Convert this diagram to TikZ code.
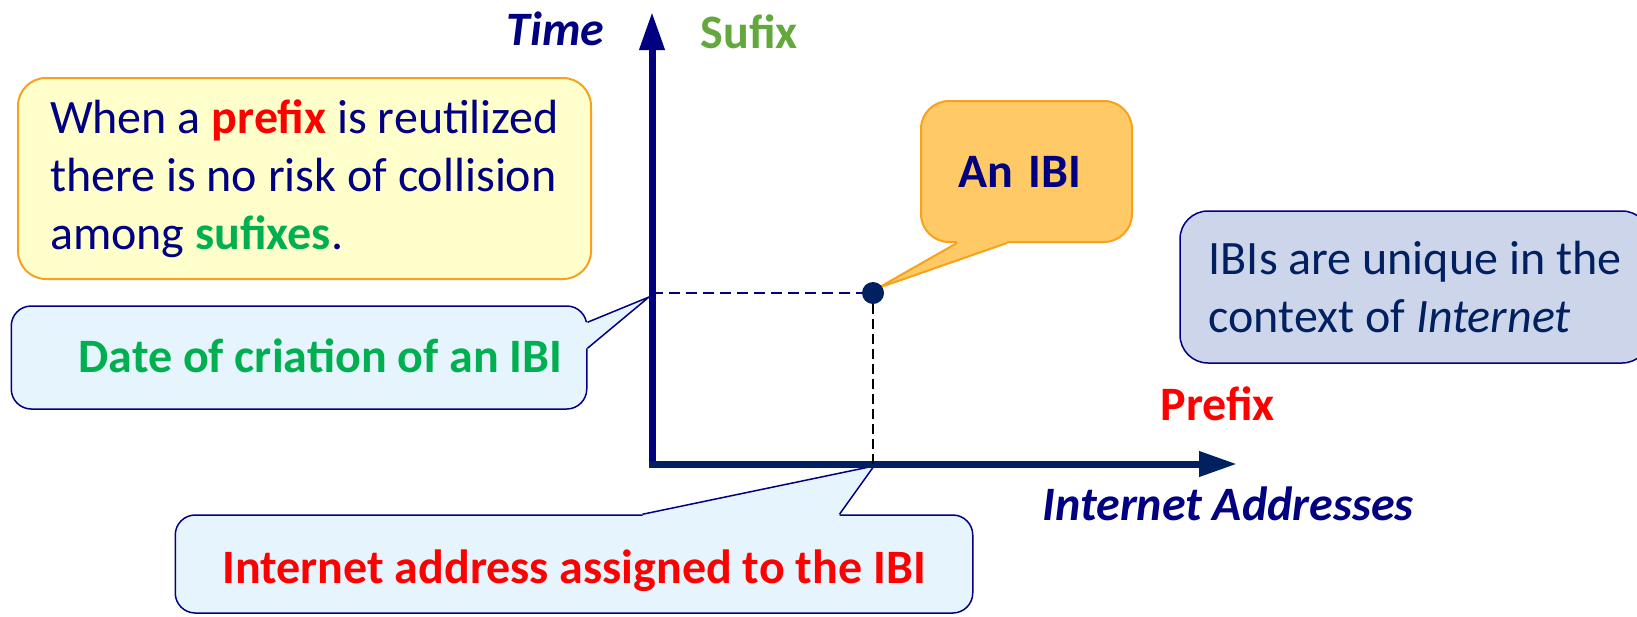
\documentclass[tikz,border=0pt]{standalone}
\usepackage{fontspec}
\setmainfont{Carlito}
\usetikzlibrary{arrows.meta,calc}

\definecolor{navy}{HTML}{000080}
\definecolor{darknavy}{HTML}{002060}
\definecolor{ibigreen}{HTML}{00B050}
\definecolor{sufgreen}{HTML}{62A83C}
\definecolor{notefill}{HTML}{FFFFCC}
\definecolor{orangeline}{HTML}{F9A11B}
\definecolor{tagfill}{HTML}{FFCA66}
\definecolor{callfill}{HTML}{E6F4FD}
\definecolor{uniqfill}{HTML}{CDD5EA}

\tikzset{
  plaintext/.style={font=\fontsize{48pt}{58pt}\selectfont},
  boldtext/.style={font=\fontsize{48pt}{58pt}\selectfont\bfseries},
  slanttext/.style={font=\fontsize{48pt}{58pt}\selectfont\bfseries\itshape},
  notebox/.style={draw=orangeline, fill=notefill, line width=2pt, rounded corners=28pt, plaintext},
  tagbox/.style={draw=orangeline, fill=tagfill, line width=2pt, rounded corners=28pt, boldtext},
  callbox/.style={draw=navy, fill=callfill, line width=1.5pt, rounded corners=20pt, boldtext},
  uniqbox/.style={draw=navy, fill=uniqfill, line width=1.5pt, rounded corners=28pt, plaintext},
  axis/.style={line width=7pt, -{Triangle[length=38pt,width=24pt]}},
}

\begin{document}
\begin{tikzpicture}[x=1pt, y=-1pt]
  \useasboundingbox (0,0) rectangle (1637,616);

  %% boxes
  \node[notebox, minimum width=573pt, minimum height=201pt, align=left, text=navy]
        (note) at (304.5,178.5)
        {When a \textcolor{red}{\textbf{prefix}} is reutilized\\
         there is no risk of collision\\
         among \textcolor{ibigreen}{\textbf{sufixes}}.};

  \node[callbox, minimum width=575.5pt, minimum height=103pt] (date) at (299,357.5) {};
  \node[boldtext, text=ibigreen, anchor=base east, inner sep=0pt] (datetext)
        at ($(date.north east)+(-25,67)$) {Date of criation of an IBI};

  \node[callbox, minimum width=797.5pt, minimum height=98pt, text=red,
        text height=38pt, text depth=0pt] (addr) at (574,564)
        {Internet address assigned to the IBI};

  \node[tagbox, minimum width=211pt, minimum height=141pt, inner xsep=37pt,
        text width=137pt, align=left, text=navy] (tag) at (1026.5,171.5) {An IBI};

  \node[uniqbox, minimum width=470pt, minimum height=152pt, align=left,
        text=darknavy] (uniq) at (1415,287)
        {IBIs are unique in the\\ context of \textit{Internet}};

  %% tails
  \coordinate (datetip) at (649,297);
  \coordinate (addrtip) at (874,466);
  \coordinate (tagtip)  at (878,288);

  \fill[callfill] ($(date.north east)+(-4,17)$) -- ($(date.north east)+(0,17)$) -- (datetip)
        -- ($(date.north east)+(0,43)$) -- ($(date.north east)+(-4,43)$) -- cycle;
  \draw[navy, line width=1.5pt] ($(date.north east)+(0,17)$) -- (datetip) -- ($(date.north east)+(0,43)$);

  \fill[callfill] ($(addr.north west)+(468,4)$) -- ($(addr.north west)+(468,0)$) -- (addrtip)
        -- ($(addr.north west)+(665,0)$) -- ($(addr.north west)+(665,4)$) -- cycle;
  \draw[navy, line width=1.5pt] ($(addr.north west)+(468,0)$) -- (addrtip) -- ($(addr.north west)+(665,0)$);

  \fill[tagfill] ($(tag.south west)+(37,-4)$) -- ($(tag.south west)+(37,0)$) -- (tagtip)
        -- ($(tag.south west)+(87,0)$) -- ($(tag.south west)+(87,-4)$) -- cycle;
  \draw[orangeline, line width=2pt] ($(tag.south west)+(37,0)$) -- (tagtip) -- ($(tag.south west)+(87,0)$);

  %% axes
  \coordinate (origin) at (652,464);
  \coordinate (ytop)   at (652,12);
  \coordinate (xend)   at (1237,464);
  \draw[axis, navy] ($(origin)+(0,3.5)$) -- (ytop);
  \draw[axis, darknavy] ($(origin)+(-3.5,0)$) -- (xend);

  \node[slanttext, text=navy, anchor=base east] (time) at (608,45) {Time};
  \node[boldtext, text=sufgreen, anchor=base west] (sufix) at (697,48) {Sufix};
  \node[boldtext, text=red, anchor=base west] (prefix) at (1157,420) {Prefix};
  \node[slanttext, text=navy, anchor=base west] (inet) at (1039,520) {Internet Addresses};

  %% the IBI
  \node[circle, fill=darknavy, inner sep=0pt, minimum size=22pt] (ibi) at (873,293) {};
  \coordinate (tmark) at (origin |- ibi);
  \coordinate (amark) at (ibi |- origin);
  \draw[navy, line width=1.5pt, dash pattern=on 11pt off 6pt] (tmark) -- (ibi.west);
  \draw[black, line width=1.5pt, dash pattern=on 10pt off 5pt] (ibi.south) -- (amark);
\end{tikzpicture}
\end{document}
